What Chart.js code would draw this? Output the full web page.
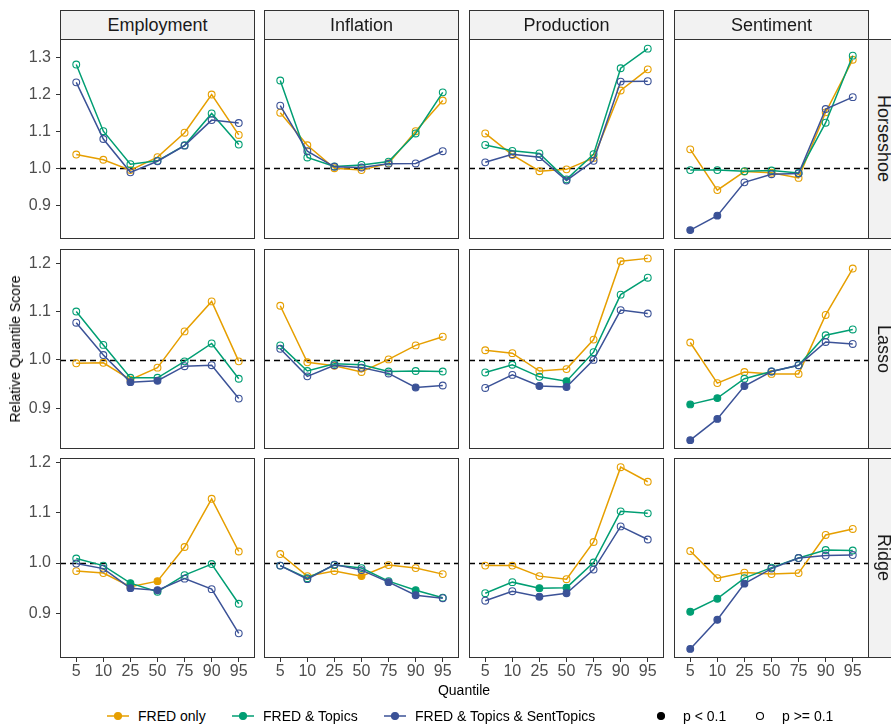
<!DOCTYPE html>
<html><head><meta charset="utf-8">
<script src="https://cdn.jsdelivr.net/npm/chart.js@4.4.1/dist/chart.umd.min.js"></script>
<style>
html,body{margin:0;padding:0;background:#fff;}
body{width:891px;height:727px;position:relative;overflow:hidden;font-family:"Liberation Sans",Arial,sans-serif;}
.pc{position:absolute;}
.strip{position:absolute;background:#F2F2F2;border:1px solid #333;box-sizing:border-box;color:#1a1a1a;font-size:18px;display:flex;align-items:center;justify-content:center;white-space:nowrap;}
.rstrip{writing-mode:vertical-rl;}
.txt{position:absolute;white-space:nowrap;color:#000;}
</style></head>
<body>
<script>
// ---------- data ----------
const quantiles = ['5','10','25','50','75','90','95'];
const variables = ['Employment','Inflation','Production','Sentiment'];
const models = ['Horseshoe','Lasso','Ridge'];
const seriesNames = ['FRED only','FRED & Topics','FRED & Topics & SentTopics'];

// rows: Employment, Inflation, Production, Sentiment ; columns: quantiles
const horseshoeFred = [
 [1.037,1.023,0.995,1.030,1.096,1.199,1.090],
 [1.150,1.062,1.000,0.995,1.013,1.100,1.183],
 [1.094,1.036,0.992,0.997,1.028,1.210,1.267],
 [1.051,0.941,0.991,0.988,0.974,1.151,1.293]
];
const horseshoeTopics = [
 [1.280,1.100,1.011,1.020,1.062,1.148,1.064],
 [1.237,1.029,1.005,1.009,1.018,1.094,1.205],
 [1.063,1.047,1.040,0.970,1.038,1.270,1.323],
 [0.995,0.995,0.992,0.994,0.987,1.123,1.304]
];
const horseshoeSent = [
 [1.232,1.079,0.989,1.019,1.061,1.130,1.122],
 [1.169,1.046,1.004,1.002,1.012,1.013,1.046],
 [1.016,1.038,1.030,0.967,1.020,1.234,1.235],
 [0.833,0.872,0.962,0.984,0.986,1.160,1.192]
];
const lassoFred = [
 [0.993,0.994,0.959,0.984,1.059,1.121,0.997],
 [1.112,0.995,0.988,0.975,1.001,1.030,1.048],
 [1.020,1.014,0.977,0.981,1.042,1.204,1.210],
 [1.036,0.952,0.975,0.971,0.971,1.093,1.189]
];
const lassoTopics = [
 [1.100,1.031,0.963,0.963,0.997,1.034,0.961],
 [1.030,0.977,0.992,0.990,0.976,0.977,0.976],
 [0.974,0.990,0.965,0.956,1.016,1.135,1.170],
 [0.908,0.921,0.961,0.976,0.989,1.051,1.063]
];
const lassoSent = [
 [1.077,1.010,0.954,0.957,0.987,0.989,0.920],
 [1.023,0.966,0.989,0.984,0.972,0.943,0.947],
 [0.942,0.969,0.946,0.944,1.000,1.103,1.096],
 [0.834,0.878,0.946,0.976,0.989,1.037,1.033]
];
const ridgeFred = [
 [0.984,0.980,0.953,0.964,1.032,1.128,1.023],
 [1.018,0.974,0.984,0.974,0.996,0.990,0.978],
 [0.995,0.995,0.974,0.968,1.042,1.191,1.162],
 [1.024,0.970,0.981,0.978,0.980,1.056,1.068]
];
const ridgeTopics = [
 [1.009,0.995,0.960,0.943,0.976,0.998,0.919],
 [0.995,0.970,0.996,0.990,0.964,0.946,0.931],
 [0.940,0.962,0.950,0.951,1.001,1.103,1.099],
 [0.903,0.929,0.970,0.991,1.010,1.026,1.025]
];
const ridgeSent = [
 [0.999,0.989,0.950,0.946,0.969,0.948,0.860],
 [0.995,0.968,0.997,0.986,0.962,0.936,0.930],
 [0.925,0.944,0.933,0.940,0.987,1.073,1.047],
 [0.829,0.887,0.959,0.989,1.010,1.015,1.016]
];
// points with p < 0.1: [model, variable, series index, quantile index]
const significant = [
 ['Horseshoe','Sentiment',2,0],['Horseshoe','Sentiment',2,1],
 ['Lasso','Employment',2,2],['Lasso','Employment',2,3],
 ['Lasso','Inflation',2,5],
 ['Lasso','Production',1,3],['Lasso','Production',2,2],['Lasso','Production',2,3],
 ['Lasso','Sentiment',1,0],['Lasso','Sentiment',1,1],['Lasso','Sentiment',2,0],['Lasso','Sentiment',2,1],['Lasso','Sentiment',2,2],
 ['Ridge','Employment',0,3],['Ridge','Employment',1,2],['Ridge','Employment',2,2],['Ridge','Employment',2,3],
 ['Ridge','Inflation',0,3],['Ridge','Inflation',1,5],['Ridge','Inflation',2,4],['Ridge','Inflation',2,5],
 ['Ridge','Production',1,2],['Ridge','Production',1,3],['Ridge','Production',2,2],['Ridge','Production',2,3],
 ['Ridge','Sentiment',1,0],['Ridge','Sentiment',1,1],['Ridge','Sentiment',2,0],['Ridge','Sentiment',2,1],['Ridge','Sentiment',2,2]
];
const yTickValues = [[0.9,1.0,1.1,1.2,1.3],[0.9,1.0,1.1,1.2],[0.9,1.0,1.1,1.2]];
const yLimits = [[0.809,1.349],[0.8157,1.2294],[0.8109,1.2093]];

// ---------- styling / layout ----------
const seriesColors = ['#E69F00','#009E73','#3B5297'];
const modelSeries = [[horseshoeFred,horseshoeTopics,horseshoeSent],[lassoFred,lassoTopics,lassoSent],[ridgeFred,ridgeTopics,ridgeSent]];
const panelLeft=[60,264,469,674], panelTop=[39,249,458], PW=195, PH=200, YAXW=60, XAXH=30, TOPPAD=10;
const FONT='"Liberation Sans", Arial, sans-serif';

const panelPlugin = {
  id:'panelDeco',
  beforeDatasetsDraw(chart){
    const {ctx, chartArea:a} = chart; const y = chart.scales.y;
    const py = Math.round(y.getPixelForValue(1)) + 0.5;
    ctx.save(); ctx.strokeStyle='#000'; ctx.lineWidth=1.4; ctx.setLineDash([6,4]);
    ctx.beginPath(); ctx.moveTo(a.left, py); ctx.lineTo(a.right, py); ctx.stroke(); ctx.restore();
  },
  afterDraw(chart){
    const {ctx, chartArea:a} = chart;
    ctx.save(); ctx.strokeStyle='#333'; ctx.lineWidth=1;
    ctx.strokeRect(a.left+0.5, a.top+0.5, a.right-a.left-1, a.bottom-a.top-1); ctx.restore();
  }
};

function isSig(m,v,s,q){ return significant.some(e=>e[0]===m&&e[1]===v&&e[2]===s&&e[3]===q); }
function zeroPad(ax){ ax.paddingTop=0; ax.paddingBottom=0; ax.paddingLeft=0; ax.paddingRight=0; }

for (let r=0;r<3;r++){
  for (let c=0;c<4;c++){
    const showX = r===2, showY = c===0;
    const padTop = showY ? TOPPAD : 0;
    const left = showY ? 0 : panelLeft[c];
    const w = showY ? panelLeft[0]+PW : PW;
    const h = (showX ? PH+XAXH : PH) + padTop;
    const div = document.createElement('div'); div.className='pc';
    div.style.left=left+'px'; div.style.top=(panelTop[r]-padTop)+'px'; div.style.width=w+'px'; div.style.height=h+'px';
    const cv = document.createElement('canvas'); cv.width=w; cv.height=h; cv.style.width=w+'px'; cv.style.height=h+'px';
    div.appendChild(cv); document.body.appendChild(div);
    const datasets = [];
    for (let s=2;s>=0;s--){
      const vals = modelSeries[r][s][c];
      const col = seriesColors[s];
      datasets.push({
        label: seriesNames[s],
        data: vals.map((v,i)=>({x:i+1,y:v})),
        borderColor: col, borderWidth: 1.5,
        pointRadius: 3.4, pointBorderWidth: 1.1,
        pointBorderColor: col,
        pointBackgroundColor: vals.map((v,i)=> isSig(models[r],variables[c],s,i) ? col : 'rgba(0,0,0,0)'),
        fill:false, tension:0
      });
    }
    new Chart(cv, {
      type:'line',
      data:{datasets},
      plugins:[panelPlugin],
      options:{
        responsive:false, animation:false, devicePixelRatio:1,
        layout:{padding:{top:padTop,left:0,right:0,bottom:0}, autoPadding:false},
        plugins:{legend:{display:false}, tooltip:{enabled:false}},
        scales:{
          x:{type:'linear', min:0.4, max:7.6, display: showX,
             afterBuildTicks:(ax)=>{ ax.ticks = quantiles.map((q,i)=>({value:i+1})); },
             afterFit:(ax)=>{ if(showX){ ax.height = XAXH; } zeroPad(ax); },
             border:{display:false},
             grid:{drawOnChartArea:false, drawTicks:true, tickLength:4, tickColor:'#333', tickWidth:1},
             ticks:{autoSkip:false, maxRotation:0, minRotation:0, padding:0, color:'#4D4D4D', font:{family:FONT, size:16},
                    callback:(v)=> quantiles[Math.round(v)-1]}
          },
          y:{type:'linear', min:yLimits[r][0], max:yLimits[r][1], display: showY,
             afterBuildTicks:(ax)=>{ ax.ticks = yTickValues[r].map(v=>({value:v})); },
             afterFit:(ax)=>{ if(showY){ ax.width = YAXW; } zeroPad(ax); },
             border:{display:false},
             grid:{drawOnChartArea:false, drawTicks:true, tickLength:4, tickColor:'#333', tickWidth:1},
             ticks:{padding:5, color:'#4D4D4D', font:{family:FONT, size:16}, callback:(v)=> Number(v).toFixed(1)}
          }
        }
      }
    });
  }
}

// strips
variables.forEach((v,c)=>{
  const d=document.createElement('div'); d.className='strip'; d.textContent=v;
  d.style.left=panelLeft[c]+'px'; d.style.top='10px'; d.style.width=PW+'px'; d.style.height='30px';
  document.body.appendChild(d);
});
models.forEach((m,r)=>{
  const d=document.createElement('div'); d.className='strip rstrip'; d.textContent=m;
  d.style.left=(panelLeft[3]+PW-1)+'px'; d.style.top=panelTop[r]+'px'; d.style.width='30px'; d.style.height=PH+'px';
  document.body.appendChild(d);
});
// axis titles
const yt=document.createElement('div'); yt.className='txt'; yt.textContent='Relative Quantile Score';
yt.style.fontSize='14px'; yt.style.left='15px'; yt.style.top='349px'; yt.style.transform='translate(-50%,-50%) rotate(-90deg)';
document.body.appendChild(yt);
const xt=document.createElement('div'); xt.className='txt'; xt.textContent='Quantile';
xt.style.fontSize='14px'; xt.style.left='464px'; xt.style.top='690px'; xt.style.transform='translate(-50%,-50%)';
document.body.appendChild(xt);

// legend
const legendItems = [
  {cx:118, tx:138, label:seriesNames[0], color:seriesColors[0], line:true, fill:true},
  {cx:243, tx:263, label:seriesNames[1], color:seriesColors[1], line:true, fill:true},
  {cx:395, tx:415, label:seriesNames[2], color:seriesColors[2], line:true, fill:true},
  {cx:661, tx:683, label:'p < 0.1', color:'#000', line:false, fill:true},
  {cx:760, tx:782, label:'p >= 0.1', color:'#000', line:false, fill:false}
];
legendItems.forEach(it=>{
  const ns='http://www.w3.org/2000/svg';
  const svg=document.createElementNS(ns,'svg'); svg.setAttribute('width','24'); svg.setAttribute('height','14');
  svg.style.position='absolute'; svg.style.left=(it.cx-12)+'px'; svg.style.top='709px';
  if(it.line){ const l=document.createElementNS(ns,'line'); l.setAttribute('x1','1'); l.setAttribute('x2','23'); l.setAttribute('y1','7'); l.setAttribute('y2','7'); l.setAttribute('stroke',it.color); l.setAttribute('stroke-width','1.5'); svg.appendChild(l); }
  const c=document.createElementNS(ns,'circle'); c.setAttribute('cx','12'); c.setAttribute('cy','7'); c.setAttribute('r','3.5');
  c.setAttribute('fill', it.fill?it.color:'none'); c.setAttribute('stroke', it.color); c.setAttribute('stroke-width','1.1'); svg.appendChild(c);
  document.body.appendChild(svg);
  const t=document.createElement('div'); t.className='txt'; t.textContent=it.label; t.style.fontSize='14px';
  t.style.left=it.tx+'px'; t.style.top='716px'; t.style.transform='translateY(-50%)';
  document.body.appendChild(t);
});
</script>
</body></html>
